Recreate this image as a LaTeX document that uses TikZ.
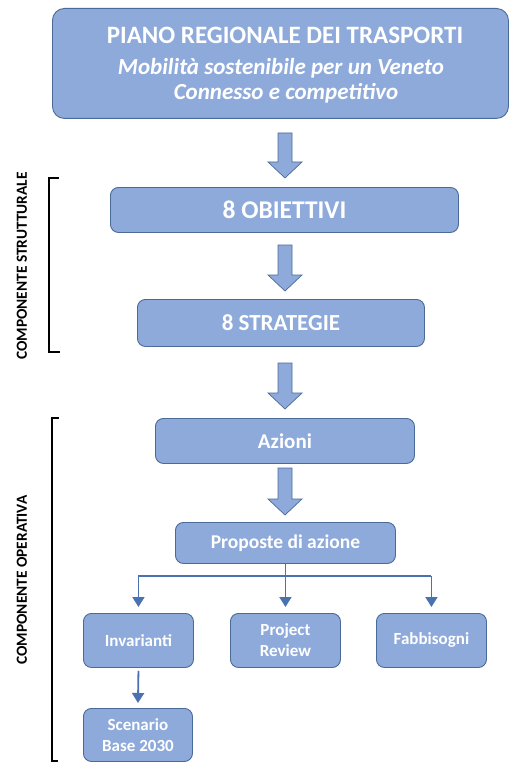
\documentclass[tikz,border=0pt]{standalone}
\usepackage{fontspec}
\setmainfont{Carlito}
\usetikzlibrary{calc,arrows.meta}
\definecolor{boxfill}{HTML}{8EAADB}
\definecolor{boxline}{HTML}{4A6A98}
\definecolor{linkcol}{HTML}{4A72B0}
\tikzset{
  box/.style={draw=boxline, line width=0.9pt, fill=boxfill, rounded corners=8pt,
    text=white, font=\bfseries, align=center, inner sep=0pt},
  blockarrow/.style={draw=boxline, line width=0.7pt, fill=boxfill, line join=miter},
  link/.style={draw=linkcol, line width=1.8pt, -{Triangle[width=12pt,length=10pt]}},
  linkline/.style={draw=linkcol, line width=1.8pt},
  side/.style={font=\bfseries\fontsize{15.4}{15.4}\selectfont, rotate=90},
  bracket/.style={draw=black, line width=1.8pt}
}
\newcommand\blockarr[2]{%
  \draw[blockarrow] ($(#1)+(-7,0)$) -- ($(#1)+(7,0)$) -- ($(#2)+(7,-16)$) -- ($(#2)+(17,-16)$)
    -- (#2) -- ($(#2)+(-17,-16)$) -- ($(#2)+(-7,-16)$) -- cycle;}
\begin{document}
\begin{tikzpicture}[x=1pt,y=-1pt]
\useasboundingbox (0,0) rectangle (509,762);
\clip (0,0) rectangle (509,762);
% top box
\node[box, rounded corners=12pt, minimum width=456pt, minimum height=110pt, anchor=north west] (top) at (52,8) {};
\node[text=white, font=\bfseries\fontsize{25}{25}\selectfont] (t1) at (285,35) {PIANO REGIONALE DEI TRASPORTI};
\node[text=white, font=\bfseries\itshape\fontsize{23}{23}\selectfont] (t2) at (281,68) {Mobilità sostenibile per un Veneto};
\node[text=white, font=\bfseries\itshape\fontsize{23}{23}\selectfont] (t3) at (286,93) {Connesso e competitivo};
% main boxes
\node[box, minimum width=348pt, minimum height=45pt, anchor=north west, font=\bfseries\fontsize{25.5}{25.5}\selectfont] (obj) at (110,187) {8 OBIETTIVI};
\node[box, minimum width=287pt, minimum height=47pt, anchor=north west, font=\bfseries\fontsize{23}{23}\selectfont] (str) at (137,299) {8 STRATEGIE};
\node[box, minimum width=259pt, minimum height=45pt, anchor=north west, font=\bfseries\fontsize{21}{21}\selectfont] (az) at (155,418) {Azioni};
\node[box, minimum width=220pt, minimum height=41pt, anchor=north west, font=\bfseries\fontsize{19.5}{19.5}\selectfont] (prop) at (175,522) {Proposte di azione};
% small boxes
\node[box, minimum width=110pt, minimum height=54pt, anchor=north west, font=\bfseries\fontsize{17}{21}\selectfont] (inv) at (83,613) {Invarianti};
\node[box, minimum width=110pt, minimum height=54pt, anchor=north west, font=\bfseries\fontsize{17}{21}\selectfont] (pr) at (230,613) {Project\\Review};
\node[box, minimum width=110pt, minimum height=54pt, anchor=north west, font=\bfseries\fontsize{17}{21}\selectfont] (fab) at (376,613) {Fabbisogni};
\node[box, minimum width=109pt, minimum height=53pt, anchor=north west, font=\bfseries\fontsize{17}{21}\selectfont] (scen) at (83,708) {Scenario\\Base 2030};
% block arrows
\coordinate (a1s) at (285,133); \coordinate (a1e) at (285,178);
\coordinate (a2s) at (285,245); \coordinate (a2e) at (285,291);
\coordinate (a3s) at (285,363); \coordinate (a3e) at (285,409);
\coordinate (a4s) at (285,468); \coordinate (a4e) at (285,515);
\blockarr{a1s}{a1e}
\blockarr{a2s}{a2e}
\blockarr{a3s}{a3e}
\blockarr{a4s}{a4e}
% tree links
\coordinate (hub) at (prop.south |- 0,576);
\draw[linkline] (prop.south) -- (hub);
\draw[linkline] (inv.north |- hub) -- (fab.north |- hub);
\draw[link] (inv.north |- hub) -- ($(inv.north)+(0,-6)$);
\draw[link] (hub) -- ($(pr.north)+(0,-6)$);
\draw[link] (fab.north |- hub) -- ($(fab.north)+(0,-6)$);
\draw[link] ($(inv.south)+(0,3)$) -- ($(scen.north)+(0,-5)$);
% brackets
\draw[bracket] (59,178) -- (49,178) -- (49,352) -- (60,352);
\draw[bracket] (59,418) -- (52,418) -- (52,761) -- (58,761);
\node[side] (cs) at (22,266) {COMPONENTE STRUTTURALE};
\node[side] (co) at (22,580) {COMPONENTE OPERATIVA};
\end{tikzpicture}
\end{document}
